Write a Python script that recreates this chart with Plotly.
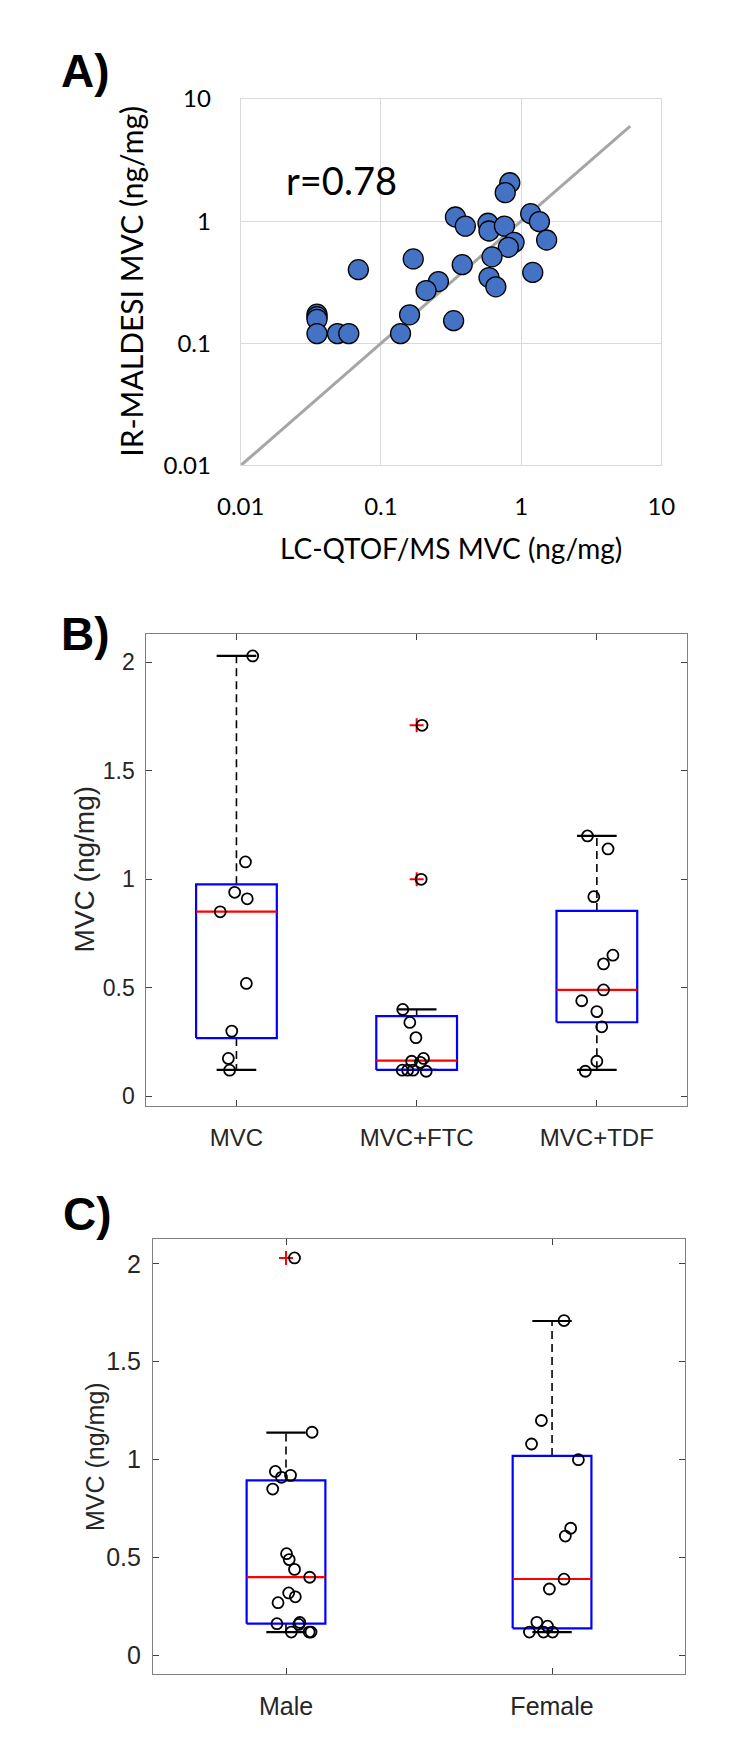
import plotly.graph_objects as go

W, H = 737, 1759

# ---- panel A: IR-MALDESI vs LC-QTOF/MS (log-log) ----
lc_qtof = [0.83, 0.77, 0.34, 0.40, 0.58, 0.59, 0.76, 1.17, 1.35, 1.52,
           0.89, 0.81, 0.62, 0.17, 0.069, 0.38, 0.59, 0.66, 0.257, 0.21,
           1.21, 0.16, 0.33, 0.138, 0.035, 0.035, 0.035, 0.035, 0.049, 0.059]
ir_maldesi = [2.06, 1.71, 1.08, 0.91, 0.96, 0.83, 0.91, 1.15, 0.99, 0.70,
              0.67, 0.61, 0.51, 0.49, 0.40, 0.44, 0.345, 0.29, 0.32, 0.27,
              0.38, 0.171, 0.153, 0.12, 0.173, 0.165, 0.157, 0.12, 0.12, 0.12]
identity_line = [0.01, 6.0]
r_text = 'r=0.78'
log_ticks = [0.01, 0.1, 1, 10]
log_tick_text = ['0.01', '0.1', '1', '10']

# ---- panel B: by regimen ----
regimens = ['MVC', 'MVC+FTC', 'MVC+TDF']
reg_values = [
    [2.03, 1.08, 0.94, 0.91, 0.85, 0.52, 0.30, 0.174, 0.12],
    [1.71, 1.00, 0.40, 0.34, 0.27, 0.174, 0.161, 0.156, 0.12, 0.12, 0.12, 0.115],
    [1.20, 1.14, 0.92, 0.65, 0.61, 0.49, 0.44, 0.39, 0.32, 0.161, 0.115],
]
reg_jitter = [
    [0.09, 0.05, -0.01, 0.06, -0.09, 0.055, -0.026, -0.045, -0.038],
    [0.03, 0.025, -0.077, -0.038, -0.004, 0.038, -0.028, 0.021, -0.08, -0.05, -0.02, 0.053],
    [-0.052, 0.062, -0.017, 0.089, 0.037, 0.037, -0.084, 0.0, 0.027, 0.0, -0.064],
]
reg_q1 = [0.268, 0.121, 0.341]
reg_med = [0.851, 0.164, 0.490]
reg_q3 = [0.977, 0.369, 0.854]
reg_wlo = [0.121, 0.121, 0.121]
reg_whi = [2.03, 0.40, 1.20]
reg_outliers = [[], [1.71, 1.00], []]

# ---- panel C: by sex ----
sexes = ['Male', 'Female']
sex_values = [
    [2.03, 1.14, 0.94, 0.91, 0.92, 0.85, 0.52, 0.49, 0.44, 0.40,
     0.32, 0.30, 0.27, 0.163, 0.169, 0.159, 0.12, 0.12, 0.12],
    [1.71, 1.20, 1.08, 1.00, 0.65, 0.61, 0.39, 0.34, 0.17, 0.15, 0.12, 0.12, 0.12],
]
sex_jitter = [
    [0.032, 0.098, -0.04, -0.017, 0.017, -0.05, 0.002, 0.012, 0.032, 0.089,
     0.01, 0.035, -0.03, -0.034, 0.052, 0.048, 0.02, 0.087, 0.094],
    [0.045, -0.04, -0.077, 0.099, 0.07, 0.05, 0.045, -0.01, -0.057, -0.017, -0.085, -0.032, 0.002],
]
sex_q1 = [0.163, 0.139]
sex_med = [0.401, 0.391]
sex_q3 = [0.894, 1.019]
sex_wlo = [0.12, 0.12]
sex_whi = [1.138, 1.708]
sex_outliers = [[2.03], []]

BLUE_PT = '#4472C4'
ARIAL = 'Liberation Sans, Arial, sans-serif'
CAL = 'Lato, Liberation Sans, sans-serif'
AX_GRAY = '#808080'


def dom_x(a, b):
    return [a / W, b / W]


def dom_y(top, bottom):
    return [1 - bottom / H, 1 - top / H]


def add_boxes(fig, xa, ya, values, jitter, q1, med, q3, wlo, whi, outliers, half_w, cap_w):
    for i in range(len(values)):
        c = i + 1
        kw = dict(xaxis=xa, yaxis=ya, showlegend=False, hoverinfo='skip')
        # whiskers (dashed)
        fig.add_trace(go.Scatter(x=[c, c, None, c, c], y=[q3[i], whi[i], None, q1[i], wlo[i]],
                                 mode='lines', line=dict(color='black', width=1.6, dash='8px,5px'), **kw))
        # caps
        fig.add_trace(go.Scatter(x=[c - cap_w, c + cap_w, None, c - cap_w, c + cap_w],
                                 y=[whi[i], whi[i], None, wlo[i], wlo[i]],
                                 mode='lines', line=dict(color='black', width=2.2), **kw))
        # box
        fig.add_trace(go.Scatter(x=[c - half_w, c + half_w, c + half_w, c - half_w, c - half_w],
                                 y=[q1[i], q1[i], q3[i], q3[i], q1[i]],
                                 mode='lines', line=dict(color='#0000FF', width=2.2), **kw))
        # median
        fig.add_trace(go.Scatter(x=[c - half_w, c + half_w], y=[med[i], med[i]],
                                 mode='lines', line=dict(color='#FF0000', width=2.2), **kw))
        if outliers[i]:
            fig.add_trace(go.Scatter(x=[c] * len(outliers[i]), y=outliers[i], mode='markers',
                                     marker=dict(symbol='cross-thin-open', size=10, color='#FF0000',
                                                 line=dict(color='#FF0000', width=2)), **kw))
        fig.add_trace(go.Scatter(x=[c + j for j in jitter[i]], y=values[i], mode='markers',
                                 marker=dict(symbol='circle-open', size=11, color='black',
                                             line=dict(color='black', width=1.8)), **kw))


fig = go.Figure()

# panel A
fig.add_trace(go.Scatter(x=identity_line, y=identity_line, mode='lines',
                         line=dict(color='#A6A6A6', width=3), xaxis='x', yaxis='y',
                         showlegend=False, hoverinfo='skip'))
fig.add_trace(go.Scatter(x=lc_qtof, y=ir_maldesi, mode='markers', xaxis='x', yaxis='y',
                         marker=dict(size=20, color=BLUE_PT, line=dict(color='black', width=1.3)),
                         showlegend=False))

add_boxes(fig, 'x2', 'y2', reg_values, reg_jitter, reg_q1, reg_med, reg_q3,
          reg_wlo, reg_whi, reg_outliers, 0.224, 0.11)
add_boxes(fig, 'x3', 'y3', sex_values, sex_jitter, sex_q1, sex_med, sex_q3,
          sex_wlo, sex_whi, sex_outliers, 0.148, 0.074)

box_axis = dict(showline=True, linecolor=AX_GRAY, linewidth=1, mirror='allticks',
                ticks='inside', ticklen=6, tickcolor='#404040', showgrid=False,
                zeroline=False, tickfont=dict(family=ARIAL, color='#262626'))

fig.update_layout(
    width=W, height=H,
    margin=dict(l=0, r=0, t=0, b=0),
    paper_bgcolor='white', plot_bgcolor='white',
    showlegend=False,
    xaxis=dict(domain=dom_x(228.5, 672), anchor='y', type='log', range=[-2, 1],
               tickvals=log_ticks, ticktext=log_tick_text, showgrid=True, gridcolor='#D9D9D9',
               showline=True, linecolor='#D9D9D9', mirror=True, zeroline=False, ticks='',
               ticklabelstandoff=20, tickfont=dict(family=CAL, size=24, color='black')),
    yaxis=dict(domain=dom_y(84.3, 457), anchor='x', type='log', range=[-2, 1],
               tickvals=log_ticks, ticktext=log_tick_text, showgrid=True, gridcolor='#D9D9D9',
               showline=True, linecolor='#D9D9D9', mirror=True, zeroline=False, ticks='',
               ticklabelstandoff=24, tickfont=dict(family=CAL, size=24, color='black')),
    xaxis2=dict(box_axis, domain=dom_x(129, 699), anchor='y2', range=[0.5, 3.5],
                tickvals=[1, 2, 3], ticktext=regimens, ticklabelstandoff=10,
                tickfont=dict(family=ARIAL, size=24, color='#262626')),
    yaxis2=dict(box_axis, domain=dom_y(628.8, 1108), anchor='x2', range=[-0.044, 2.129],
                tickvals=[0, 0.5, 1, 1.5, 2], ticktext=['0', '0.5', '1', '1.5', '2'],
                ticklabelstandoff=6, tickfont=dict(family=ARIAL, size=23, color='#262626')),
    xaxis3=dict(box_axis, domain=dom_x(136, 697), anchor='y3', range=[0.5, 2.5],
                tickvals=[1, 2], ticktext=sexes, ticklabelstandoff=10,
                tickfont=dict(family=ARIAL, size=25, color='#262626')),
    yaxis3=dict(box_axis, domain=dom_y(1243.8, 1686), anchor='x3', range=[-0.095, 2.125],
                tickvals=[0, 0.5, 1, 1.5, 2], ticktext=['0', '0.5', '1', '1.5', '2'],
                ticklabelstandoff=6, tickfont=dict(family=ARIAL, size=25, color='#262626')),
)


def label(text, px, py, size, family, bold=False, angle=0, color='black'):
    fig.add_annotation(text=f'<b>{text}</b>' if bold else text, x=px / W, y=1 - py / H,
                       xref='paper', yref='paper', showarrow=False, textangle=angle,
                       xanchor='center', yanchor='middle',
                       font=dict(family=family, size=size, color=color))


label('A)', 65, 56, 46, ARIAL, bold=True)
label('B)', 65, 628, 46, ARIAL, bold=True)
label('C)', 67, 1218, 46, ARIAL, bold=True)
label('IR-MALDESI MVC (ng/mg)', 112, 270, 30, CAL, angle=-90)
label('LC-QTOF/MS MVC (ng/mg)', 450, 541, 28, CAL)
label(r_text, 335, 167, 38, CAL)
label('MVC (ng/mg)', 64, 868, 28, ARIAL, angle=-90, color='#262626')
label('MVC (ng/mg)', 75, 1465, 25, ARIAL, angle=-90, color='#262626')

# the page body has a default 8px margin; drop it so paper coords match the screen
fig.write_html('out.html', config={'displayModeBar': False},
               post_script="document.body.style.margin='0px';")
